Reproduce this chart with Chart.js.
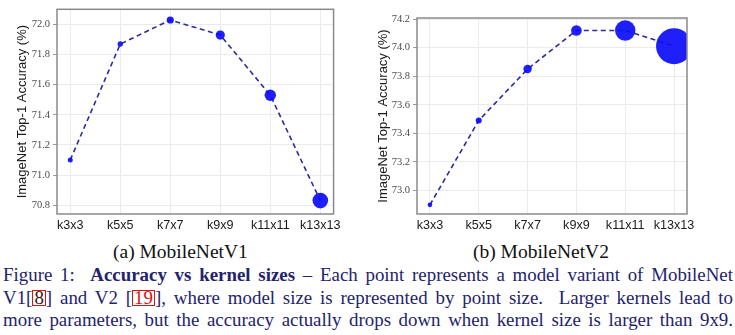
<!DOCTYPE html>
<html>
<head>
<meta charset="utf-8">
<script src="https://cdn.jsdelivr.net/npm/chart.js@4.4.1/dist/chart.umd.min.js"></script>
<style>
  html, body { margin: 0; padding: 0; background: #fff; width: 735px; height: 335px; overflow: hidden; }
  canvas { position: absolute; top: 0; }
  #c1 { left: 0; }
  #c2 { left: 365px; }
  .sub { position: absolute; top: 241px; font-family: "Liberation Serif", "Times New Roman", serif; font-size: 19.5px; line-height: 22px; color: #111; white-space: nowrap; }
  .cap { position: absolute; left: 3px; width: 730px; font-family: "Liberation Serif", "Times New Roman", serif; font-size: 18.9px; line-height: 22px; color: #23236e; white-space: nowrap; text-align: justify; text-align-last: justify; transform-origin: 0 0; }
  .cap b { font-weight: bold; }
  .ref { border: 1.5px solid #e01010; padding: 0 1px; line-height: 14px; display: inline-block; }
  .ref.dark { color: #3a1010; }
  .ref.red { color: #e01010; }
</style>
</head>
<body>
<canvas id="c1" width="345" height="236"></canvas>
<canvas id="c2" width="340" height="236"></canvas>
<div class="sub" id="s1" style="left:113px;">(a) MobileNetV1</div>
<div class="sub" id="s2" style="left:473px;">(b) MobileNetV2</div>
<div class="cap" style="top:264px;">Figure 1:&nbsp; <b>Accuracy vs kernel sizes</b> – Each point represents a model variant of MobileNet</div>
<div class="cap" style="top:286.5px;">V1[<span class="ref dark">8</span>] and V2 [<span class="ref red">19</span>], where model size is represented by point size.&nbsp; Larger kernels lead to</div>
<div class="cap" style="top:308.5px;">more parameters, but the accuracy actually drops down when kernel size is larger than 9x9.</div>
<script>
// ---- data ----
const categories = ['k3x3', 'k5x5', 'k7x7', 'k9x9', 'k11x11', 'k13x13'];
const accV1 = [71.10, 71.87, 72.03, 71.93, 71.53, 70.83];
const accV2 = [72.90, 73.49, 73.85, 74.12, 74.12, 74.01];
const pointSizeV1 = [2.5, 2.7, 3.6, 4.6, 5.7, 7.8];
const pointSizeV2 = [2.3, 3.0, 4.2, 5.3, 10.2, 18];
const yTicksV1 = [70.8, 71.0, 71.2, 71.4, 71.6, 71.8, 72.0];
const yTicksV2 = [73.0, 73.2, 73.4, 73.6, 73.8, 74.0, 74.2];
const yRangeV1 = [70.741, 72.101];
const yRangeV2 = [72.836, 74.207];
const yTitle = 'ImageNet Top-1 Accuracy (%)';

// fit caption lines to width
document.querySelectorAll('.cap').forEach(el => {
  const w = el.scrollWidth;
  if (w > 730) el.style.transform = 'scaleX(' + (730 / w) + ')';
});

const framePlugin = {
  id: 'frame',
  afterDatasetsDraw(chart) {
    const a = chart.chartArea, ctx = chart.ctx;
    ctx.save();
    ctx.strokeStyle = '#8a8a8a';
    ctx.lineWidth = 1.5;
    ctx.strokeRect(a.left, a.top, a.right - a.left, a.bottom - a.top);
    ctx.restore();
  }
};

function makeChart(id, acc, sizes, yTicks, yRange, axisWidth, titlePad) {
  const data = acc.map((v, i) => ({ x: i, y: v }));
  return new Chart(document.getElementById(id), {
    type: 'line',
    data: {
      datasets: [{
        data: data,
        borderColor: '#2b2b9c',
        borderWidth: 1.6,
        borderDash: [5, 3.5],
        backgroundColor: 'rgba(12,12,250,0.92)',
        pointBackgroundColor: 'rgba(12,12,250,0.92)',
        pointBorderWidth: 0,
        pointRadius: sizes,
        pointHoverRadius: sizes,
        tension: 0,
        fill: false
      }]
    },
    options: {
      responsive: false,
      devicePixelRatio: 1,
      animation: false,
      events: [],
      layout: { padding: { left: 0, right: 6, top: 5, bottom: 0 } },
      plugins: { legend: { display: false }, tooltip: { enabled: false } },
      scales: {
        x: {
          type: 'linear',
          min: -0.265,
          max: 5.265,
          afterBuildTicks: s => { s.ticks = categories.map((c, i) => ({ value: i })); },
          afterFit: s => { s.height = 22; },
          border: { display: false },
          grid: { color: '#ebebeb', lineWidth: 1, drawTicks: false },
          ticks: {
            padding: 4,
            autoSkip: false,
            maxRotation: 0,
            color: '#1a1a1a',
            font: { family: '"Liberation Sans", Arial, sans-serif', size: 12.6 },
            callback: v => categories[v]
          }
        },
        y: {
          type: 'linear',
          min: yRange[0],
          max: yRange[1],
          afterBuildTicks: s => { s.ticks = yTicks.map(v => ({ value: v })); },
          afterFit: s => { s.width = axisWidth; },
          border: { display: false },
          grid: { color: '#ebebeb', lineWidth: 1, tickLength: 4, tickColor: '#999' },
          ticks: {
            padding: 3,
            color: '#4a4a4a',
            font: { family: '"Liberation Serif", "DejaVu Serif", serif', size: 10.5 },
            callback: v => Number(v).toFixed(1)
          },
          title: {
            display: true,
            text: yTitle,
            color: '#1a1a1a',
            padding: { top: titlePad, bottom: 0 },
            font: { family: '"Liberation Sans", Arial, sans-serif', size: 13 }
          }
        }
      }
    },
    plugins: [framePlugin]
  });
}

makeChart('c1', accV1, pointSizeV1, yTicksV1, yRangeV1, 57, 14.7);
makeChart('c2', accV2, pointSizeV2, yTicksV2, yRangeV2, 52, 10.2);
</script>
</body>
</html>
